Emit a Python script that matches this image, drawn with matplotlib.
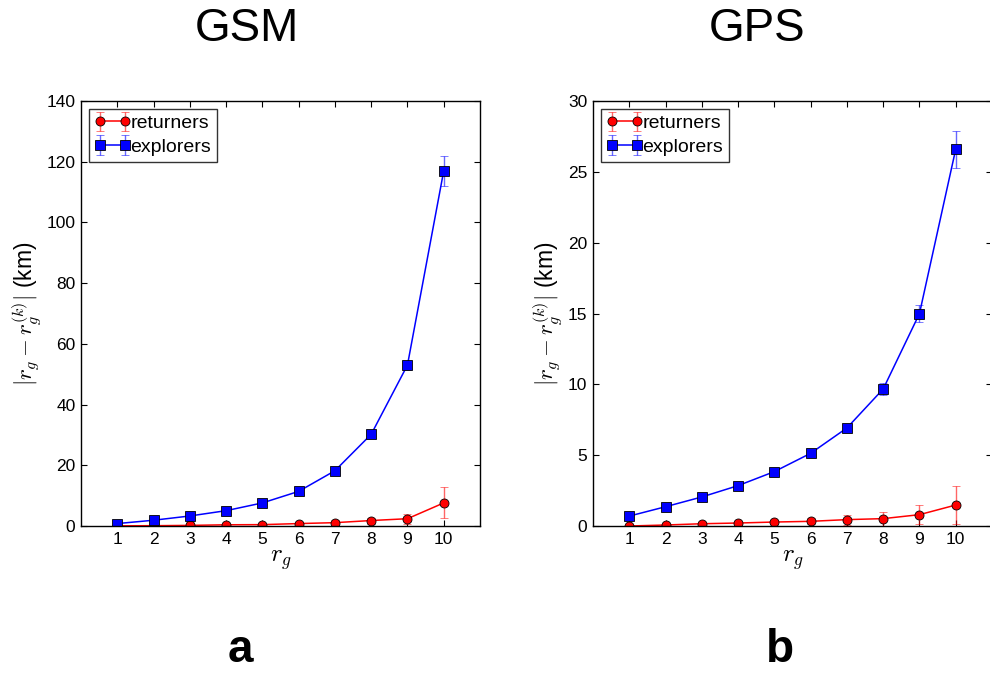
import matplotlib
matplotlib.use("Agg")
import matplotlib.pyplot as plt
import numpy as np

plt.rcParams['font.family'] = ['Liberation Sans', 'DejaVu Sans']
plt.rcParams['mathtext.fontset'] = 'cm'

rg = [1, 2, 3, 4, 5, 6, 7, 8, 9, 10]

gsm_returners = [0.05, 0.1, 0.2, 0.4, 0.45, 0.8, 1.1, 1.8, 2.4, 7.6]
gsm_returners_err = [0.05, 0.1, 0.15, 0.2, 0.3, 0.4, 0.8, 1.0, 1.7, 5.1]
gsm_explorers = [0.8, 1.9, 3.3, 5.05, 7.6, 11.4, 18.2, 30.2, 53.0, 117.0]
gsm_explorers_err = [0.2, 0.3, 0.3, 0.4, 0.5, 0.5, 0.7, 0.9, 1.5, 5.0]

gps_returners = [0.0, 0.07, 0.16, 0.21, 0.28, 0.33, 0.45, 0.52, 0.8, 1.48]
gps_returners_err = [0.02, 0.05, 0.1, 0.12, 0.15, 0.2, 0.35, 0.5, 0.65, 1.33]
gps_explorers = [0.7, 1.36, 2.05, 2.85, 3.84, 5.13, 6.92, 9.67, 14.99, 26.6]
gps_explorers_err = [0.05, 0.06, 0.08, 0.1, 0.1, 0.15, 0.3, 0.4, 0.6, 1.3]

panels = [
    ("GSM", "a", gsm_returners, gsm_returners_err, gsm_explorers, gsm_explorers_err, 140, 20, 81, 247, 240),
    ("GPS", "b", gps_returners, gps_returners_err, gps_explorers, gps_explorers_err, 30, 5, 593, 757, 780),
]

W, H = 990, 675
fig = plt.figure(figsize=(9.9, 6.75), dpi=100)
fig.patch.set_facecolor('white')

for title, letter, ret, reterr, exp, experr, ymax, ystep, left, tx, lx in panels:
    ax = fig.add_axes([left / W, (H - 526) / H, 399 / W, 425 / H])
    ax.errorbar(rg, ret, yerr=reterr, color='red', marker='o', markersize=6.5,
                markeredgecolor='black', markeredgewidth=0.6, linewidth=1.1,
                ecolor=(1, 0, 0, 0.6), elinewidth=1.0, capsize=3, capthick=1.0,
                label='returners')
    ax.errorbar(rg, exp, yerr=experr, color='blue', marker='s', markersize=6.5,
                markeredgecolor='black', markeredgewidth=0.6, linewidth=1.1,
                ecolor=(0, 0, 1, 0.6), elinewidth=1.0, capsize=3, capthick=1.0,
                label='explorers')
    ax.set_xlim(0, 11)
    ax.set_ylim(0, ymax)
    ax.set_xticks(rg)
    ax.set_yticks(np.arange(0, ymax + ystep / 2, ystep))
    ax.tick_params(direction='in', top=True, right=True, labelsize=12.5, length=4, pad=4)
    for s in ax.spines.values():
        s.set_linewidth(1.0)
    ax.set_xlabel(r'$r_g$', fontsize=18, labelpad=1)
    ax.set_ylabel(r'$|r_g - r_g^{(k)}|$ (km)', fontsize=16.5, labelpad=2)
    leg = ax.legend(loc='upper left', numpoints=2, fancybox=False, fontsize=14,
                    handletextpad=0.0, borderpad=0.3, labelspacing=0.3,
                    borderaxespad=0.4, handlelength=1.85)
    leg.get_frame().set_edgecolor('black')
    leg.get_frame().set_linewidth(1.0)
    fig.text(tx / W, 1 - 29 / H, title, fontsize=33, ha='center', va='center')
    fig.text(lx / W, 1 - 650 / H, letter, fontsize=33,
             fontweight='bold', ha='center', va='center')

fig.savefig('out.png', dpi=100, facecolor='white')
